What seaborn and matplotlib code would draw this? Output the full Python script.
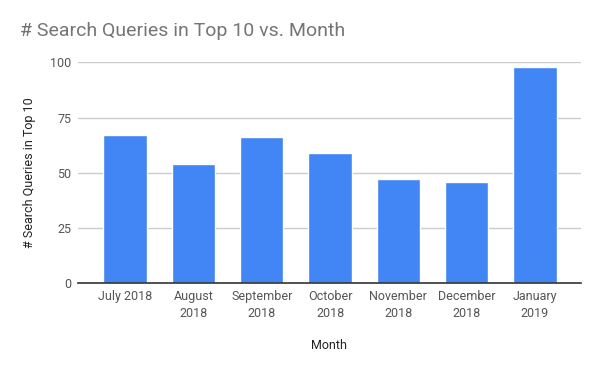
import matplotlib
matplotlib.use("Agg")
import matplotlib.pyplot as plt
import pandas as pd
import seaborn as sns

months = ["July 2018", "August\n2018", "September\n2018", "October\n2018",
          "November\n2018", "December\n2018", "January\n2019"]
queries = [67, 54, 66, 59, 47, 46, 98]
y_ticks = [0, 25, 50, 75, 100]

sns.set_theme(style="white")
plt.rcParams["font.family"] = ["Roboto", "DejaVu Sans"]

df = pd.DataFrame({"Month": months, "Queries": queries})

fig = plt.figure(figsize=(6, 3.71), dpi=100)
ax = fig.add_axes([0.13, 0.2364, 0.838, 0.5956])

sns.barplot(data=df, x="Month", y="Queries", color="#4285f4", width=0.635,
            saturation=1, ax=ax, zorder=3)

ax.set_xlim(-0.69, 6.67)
ax.set_ylim(0, 100)
ax.set_yticks(y_ticks)
ax.yaxis.grid(True, color="#cccccc", linewidth=1, zorder=0)
ax.set_axisbelow(True)
for side in ["top", "right", "left"]:
    ax.spines[side].set_visible(False)
ax.spines["bottom"].set_color("#333333")
ax.spines["bottom"].set_linewidth(1.2)
ax.spines["bottom"].set_zorder(4)

ax.tick_params(axis="both", length=0, labelsize=9, colors="#555555")
ax.tick_params(axis="x", pad=5)
ax.tick_params(axis="y", pad=5)
for lbl in ax.get_xticklabels():
    lbl.set_linespacing(1.35)
ax.set_xlabel("Month", fontsize=9, color="#222222", labelpad=14)
ax.set_ylabel("# Search Queries in Top 10", fontsize=9, color="#222222", labelpad=10)

fig.text(20 / 600, 1 - 31 / 371, "# Search Queries in Top 10 vs. Month",
         fontsize=14, color="#757575", va="center", ha="left")

fig.savefig("out.png", dpi=100, facecolor="white")
